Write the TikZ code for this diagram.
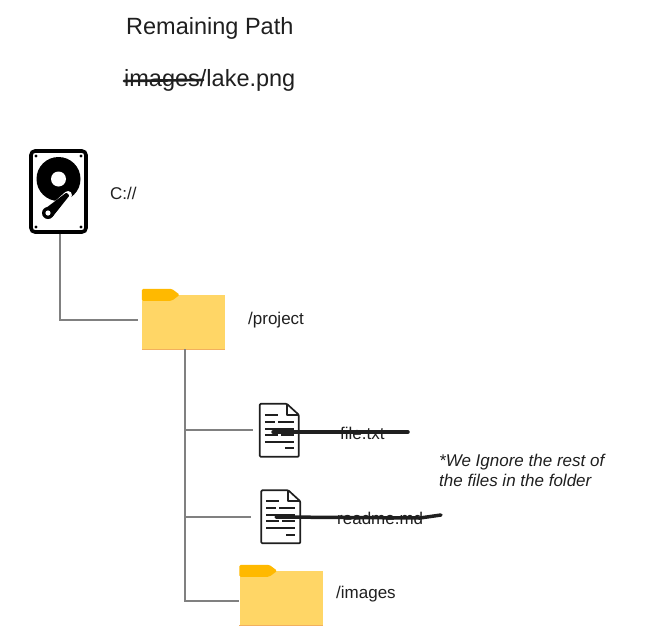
\documentclass[tikz,border=0pt]{standalone}
\usepackage{fontspec}
\setmainfont{Liberation Sans}
\usetikzlibrary{calc}
\definecolor{folderbody}{HTML}{FFD666}
\definecolor{foldertab}{HTML}{FFB900}
\definecolor{folderedge}{HTML}{F2B05E}
\definecolor{wiregray}{HTML}{808080}
\definecolor{inkdark}{HTML}{1F1F1F}
\tikzset{
	wirestyle/.style={draw=wiregray,line width=1.3pt},
	strikestyle/.style={draw=inkdark,line width=3.5pt,line cap=round},
	labelstyle/.style={anchor=west,inner sep=0pt,text=inkdark,font=\fontsize{17}{20}\selectfont},
	headstyle/.style={anchor=west,inner sep=0pt,text=inkdark,font=\fontsize{23.5}{28}\selectfont},
	notestyle/.style={anchor=north west,inner sep=0pt,align=left,text=inkdark,font=\fontsize{17}{20.4}\selectfont\itshape},
	diskstyle/.style={rectangle,rounded corners=4pt,draw=black,line width=3.6pt,fill=white,minimum width=55pt,minimum height=81pt},
	folderstyle/.style={rectangle,fill=folderbody,inner sep=0pt,minimum width=83pt,minimum height=54pt},
	filestyle/.style={rectangle,inner sep=0pt,minimum width=39pt,minimum height=53pt}
}
% tab and lower edge on top of a folder node
\newcommand{\foldertabs}[1]{
	\begin{scope}[shift={(#1.north west)}]
		\fill[foldertab,rounded corners=1.5pt] (0,6) -- (0,-6) -- (30,-6) -- (38,0) -- (30,6) -- cycle;
	\end{scope}
	\draw[folderedge,line width=1.2pt] (#1.south west) -- (#1.south east);
}
% outline and text lines of a file node
\newcommand{\filelines}[1]{
	\begin{scope}[shift={(#1.north west)},line width=1.7pt,inkdark]
		\draw[line width=1.7pt,line join=round,rounded corners=1pt] (27,0) -- (0,0) -- (0,53) -- (39,53) -- (39,11) -- cycle;
		\draw[line width=1.7pt,line join=round] (27,0) -- (27,11) -- (39,11);
		\draw (5,11) -- (18,11);
		\draw (5,18) -- (15,18) (18,18) -- (34,18);
		\draw (5,25) -- (34,25);
		\draw (5,31) -- (18,31) (21,31) -- (34,31);
		\draw (5,38) -- (34,38);
		\draw (25,44.5) -- (34,44.5);
	\end{scope}
}
\begin{document}
\begin{tikzpicture}[x=1pt,y=-1pt]
	\useasboundingbox (0,0) rectangle (650,640);
	% header
	\node[headstyle] (remaining) at (126,28) {Remaining Path};
	\node[headstyle] (lakepath) at (124,80) {images/lake.png};
	\draw[strikestyle,line width=2.6pt] (124,81) -- (203,80);
	% disk
	\node[diskstyle] (disk) at (58.5,191.5) {};
	\fill (58.5,179) circle (22pt);
	\fill[white] (58.5,179) circle (7.5pt);
	\fill[white] (48,213) circle (8pt);
	\draw[white,line width=8pt,line cap=round] (68,195) -- (50,211);
	\fill[black,rounded corners=1pt] (66.5,192.5) -- (69.5,195.5) -- (52,217.5) -- (44,209.5) -- cycle;
	\fill (48,213) circle (6pt);
	\fill[white] (48,213) circle (2.6pt);
	\foreach \sx/\sy in {36/156,81/156,36/227,81/227}
		\fill (\sx,\sy) circle (1.6pt);
	\node[labelstyle] (drive) at (110,193) {C://};
	% folders and files
	\node[folderstyle] (projectdir) at (183.5,322) {};
	\foldertabs{projectdir}
	\node[labelstyle] (project) at (248,320) {/project};
	\node[filestyle] (fileone) at (279.5,430.5) {};
	\filelines{fileone}
	\node[labelstyle] (filetxt) at (340,433) {file.txt};
	\node[filestyle] (filetwo) at (281,517) {};
	\filelines{filetwo}
	\node[labelstyle] (readme) at (337,518) {readme.md};
	\node[folderstyle] (imagesdir) at (281,598) {};
	\foldertabs{imagesdir}
	\node[labelstyle] (images) at (336,594) {/images};
	% connectors
	\coordinate (bend) at (60,320);
	\coordinate (trunk) at (185,601);
	\coordinate (branchone) at (185,430);
	\coordinate (branchtwo) at (185,517);
	\draw[wirestyle,shorten >=4pt] (disk.south -| bend) -- (bend) -- (bend -| projectdir.west);
	\draw[wirestyle] (projectdir.south -| trunk) -- (trunk) -- (trunk -| imagesdir.west);
	\draw[wirestyle,shorten >=7pt] (branchone) -- (branchone -| fileone.west);
	\draw[wirestyle,shorten >=10pt] (branchtwo) -- (filetwo.west);
	% crossed out names
	\draw[strikestyle] (273,432) -- (408,432);
	\draw[strikestyle] (276,517) -- (420,518) -- (441,515);
	% note
	\node[notestyle] (note) at (439,454) {*We Ignore the rest of\\the files in the folder};
\end{tikzpicture}
\end{document}
